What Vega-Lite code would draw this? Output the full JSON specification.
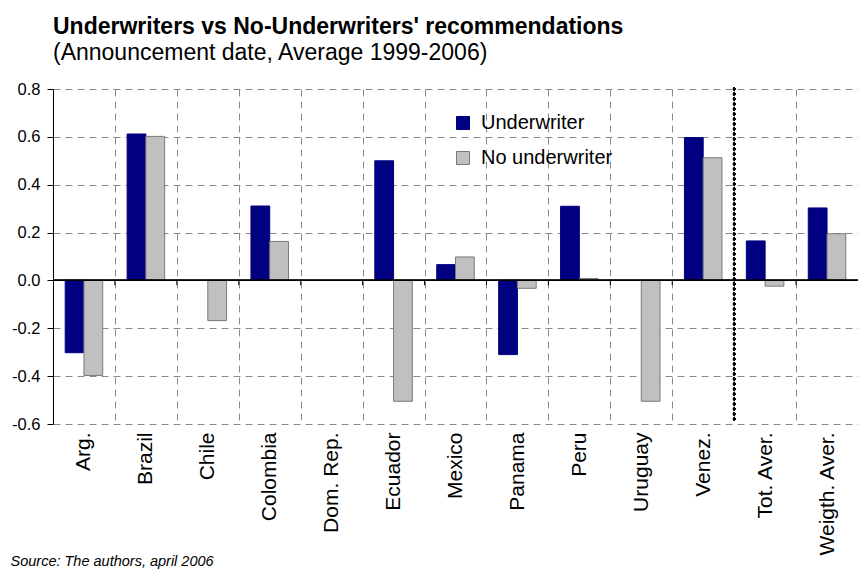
{
  "$schema": "https://vega.github.io/schema/vega-lite/v6.json",
  "width": 805,
  "height": 335,
  "autosize": {"type": "none"},
  "padding": {"left": 53, "top": 89, "right": 0, "bottom": 148},
  "background": "white",
  "config": {"view": {"stroke": null}, "font": "Liberation Sans"},
  "title": {
    "text": "Underwriters vs No-Underwriters' recommendations",
    "subtitle": "(Announcement date, Average 1999-2006)",
    "anchor": "start",
    "frame": "group",
    "fontSize": 23,
    "fontWeight": "bold",
    "color": "black",
    "subtitleFontSize": 23,
    "subtitleColor": "black",
    "subtitlePadding": 3,
    "offset": 16
  },
  "data": {
    "values": [
      {"country": "Arg.", "series": "Underwriter", "value": -0.302},
      {"country": "Arg.", "series": "No underwriter", "value": -0.397},
      {"country": "Brazil", "series": "Underwriter", "value": 0.612},
      {"country": "Brazil", "series": "No underwriter", "value": 0.602},
      {"country": "Chile", "series": "No underwriter", "value": -0.168},
      {"country": "Colombia", "series": "Underwriter", "value": 0.311},
      {"country": "Colombia", "series": "No underwriter", "value": 0.163},
      {"country": "Ecuador", "series": "Underwriter", "value": 0.5},
      {"country": "Ecuador", "series": "No underwriter", "value": -0.505},
      {"country": "Mexico", "series": "Underwriter", "value": 0.066},
      {"country": "Mexico", "series": "No underwriter", "value": 0.098},
      {"country": "Panama", "series": "Underwriter", "value": -0.31},
      {"country": "Panama", "series": "No underwriter", "value": -0.033},
      {"country": "Peru", "series": "Underwriter", "value": 0.31},
      {"country": "Peru", "series": "No underwriter", "value": 0.008},
      {"country": "Uruguay", "series": "No underwriter", "value": -0.505},
      {"country": "Venez.", "series": "Underwriter", "value": 0.597},
      {"country": "Venez.", "series": "No underwriter", "value": 0.513},
      {"country": "Tot. Aver.", "series": "Underwriter", "value": 0.165},
      {"country": "Tot. Aver.", "series": "No underwriter", "value": -0.024},
      {"country": "Weigth. Aver.", "series": "Underwriter", "value": 0.303},
      {"country": "Weigth. Aver.", "series": "No underwriter", "value": 0.195}
    ]
  },
  "layer": [
    {
      "mark": {"type": "bar", "strokeWidth": 1},
      "encoding": {
        "x": {
          "field": "country",
          "type": "nominal",
          "sort": null,
          "scale": {
            "domain": ["Arg.", "Brazil", "Chile", "Colombia", "Dom. Rep.", "Ecuador", "Mexico", "Panama", "Peru", "Uruguay", "Venez.", "Tot. Aver.", "Weigth. Aver."],
            "paddingInner": 0,
            "paddingOuter": 0
          },
          "axis": {
            "title": "Source: The authors, april 2006",
            "tickBand": "extent",
            "grid": true,
            "gridColor": "#8a8a8a",
            "gridDash": [7, 5],
            "gridWidth": 1,
            "ticks": false,
            "domain": false,
            "labelAngle": -90,
            "labelFontSize": 21,
            "labelColor": "black",
            "labelPadding": 8,
            "titleX": -43,
            "titleY": 141,
            "titleAlign": "left",
            "titleAnchor": "start",
            "titleBaseline": "alphabetic",
            "titleFontSize": 14.5,
            "titleFontStyle": "italic",
            "titleFontWeight": "normal",
            "titleColor": "black"
          }
        },
        "xOffset": {
          "field": "series",
          "type": "nominal",
          "scale": {"domain": ["Underwriter", "No underwriter"], "paddingInner": 0, "paddingOuter": 0.65}
        },
        "y": {
          "field": "value",
          "type": "quantitative",
          "scale": {"domain": [-0.6, 0.8], "nice": false, "zero": false},
          "axis": {
            "title": null,
            "values": [-0.6, -0.4, -0.2, 0, 0.2, 0.4, 0.6, 0.8],
            "format": ".1f",
            "labelExpr": "replace(datum.label, '\u2212', '-')",
            "labelFontSize": 16.5,
            "labelColor": "black",
            "labelPadding": 7,
            "domainColor": "black",
            "tickColor": "black",
            "tickSize": 6,
            "grid": true,
            "gridColor": "#8a8a8a",
            "gridDash": [7, 5],
            "gridWidth": 1
          }
        },
        "color": {
          "field": "series",
          "type": "nominal",
          "scale": {"domain": ["Underwriter", "No underwriter"], "range": ["#000080", "#c0c0c0"]},
          "legend": {
            "title": null,
            "orient": "none",
            "legendX": 400,
            "legendY": 24,
            "labelFontSize": 20,
            "labelColor": "black",
            "symbolType": "square",
            "symbolSize": 169,
            "symbolStrokeWidth": 1,
            "rowPadding": 15,
            "labelOffset": 8,
            "padding": 0
          }
        },
        "stroke": {
          "field": "series",
          "type": "nominal",
          "scale": {"domain": ["Underwriter", "No underwriter"], "range": ["#000080", "#7a7a7a"]},
          "legend": {
            "title": null,
            "orient": "none",
            "legendX": 400,
            "legendY": 24,
            "labelFontSize": 20,
            "labelColor": "black",
            "symbolType": "square",
            "symbolSize": 169,
            "symbolStrokeWidth": 1,
            "rowPadding": 15,
            "labelOffset": 8,
            "padding": 0
          }
        }
      }
    },
    {
      "mark": {"type": "rule", "color": "black", "strokeWidth": 1},
      "encoding": {"y": {"datum": 0, "type": "quantitative"}}
    },
    {
      "data": {"values": [
        {"country": "Brazil"}, {"country": "Chile"}, {"country": "Colombia"}, {"country": "Dom. Rep."},
        {"country": "Ecuador"}, {"country": "Mexico"}, {"country": "Panama"}, {"country": "Peru"},
        {"country": "Uruguay"}, {"country": "Venez."}, {"country": "Tot. Aver."}, {"country": "Weigth. Aver."}
      ]},
      "mark": {"type": "rule", "color": "black", "strokeWidth": 1},
      "encoding": {
        "x": {"field": "country", "type": "nominal", "bandPosition": 0},
        "y": {"datum": 0, "type": "quantitative"},
        "y2": {"datum": -0.02}
      }
    },
    {
      "mark": {"type": "rule", "color": "black", "strokeWidth": 2.5, "strokeDash": [0.1, 4.9], "strokeCap": "round"},
      "encoding": {"x": {"datum": "Tot. Aver.", "type": "nominal", "bandPosition": 0}}
    }
  ]
}
